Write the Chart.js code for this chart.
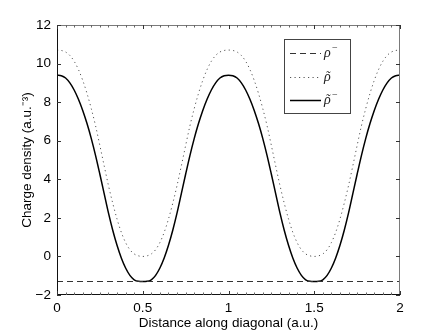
<!DOCTYPE html>
<html><head><meta charset="utf-8">
<script src="https://cdn.jsdelivr.net/npm/chart.js@4.4.0/dist/chart.umd.min.js"></script>
<style>html,body{margin:0;padding:0;background:#fff;}#wrap{width:441px;height:332px;}</style>
</head><body><div id="wrap"><canvas id="c" width="441" height="332"></canvas></div>
<script>
// Distance along diagonal (a.u.)
const xs = [0,0.025,0.05,0.075,0.1,0.125,0.15,0.175,0.2,0.225,0.25,0.275,0.3,0.325,0.35,0.375,0.4,0.425,0.45,0.475,0.5,
  0.525,0.55,0.575,0.6,0.625,0.65,0.675,0.7,0.725,0.75,0.775,0.8,0.825,0.85,0.875,0.9,0.925,0.95,0.975,1.0,
  1.025,1.05,1.075,1.1,1.125,1.15,1.175,1.2,1.225,1.25,1.275,1.3,1.325,1.35,1.375,1.4,1.425,1.45,1.475,1.5,
  1.525,1.55,1.575,1.6,1.625,1.65,1.675,1.7,1.725,1.75,1.775,1.8,1.825,1.85,1.875,1.9,1.925,1.95,1.975,2.0];
// rho tilde (dotted)
const rhoTilde = [10.70,10.68,10.60,10.42,10.12,9.69,9.13,8.45,7.66,6.77,5.75,4.70,3.68,2.76,1.94,1.25,0.72,0.35,0.13,0.03,0.00,
  0.03,0.13,0.35,0.72,1.25,1.94,2.76,3.68,4.70,5.75,6.77,7.66,8.45,9.13,9.69,10.12,10.42,10.60,10.68,10.70,
  10.68,10.60,10.42,10.12,9.69,9.13,8.45,7.66,6.77,5.75,4.70,3.68,2.76,1.94,1.25,0.72,0.35,0.13,0.03,0.00,
  0.03,0.13,0.35,0.72,1.25,1.94,2.76,3.68,4.70,5.75,6.77,7.66,8.45,9.13,9.69,10.12,10.42,10.60,10.68,10.70];
// rho tilde minus (solid)
const rhoTildeMinus = [9.40,9.37,9.25,9.00,8.63,8.15,7.57,6.89,6.11,5.23,4.26,3.26,2.26,1.36,0.58,-0.08,-0.60,-0.98,-1.21,-1.29,-1.30,
  -1.29,-1.21,-0.98,-0.60,-0.08,0.58,1.36,2.26,3.26,4.26,5.23,6.11,6.89,7.57,8.15,8.63,9.00,9.25,9.37,9.40,
  9.37,9.25,9.00,8.63,8.15,7.57,6.89,6.11,5.23,4.26,3.26,2.26,1.36,0.58,-0.08,-0.60,-0.98,-1.21,-1.29,-1.30,
  -1.29,-1.21,-0.98,-0.60,-0.08,0.58,1.36,2.26,3.26,4.26,5.23,6.11,6.89,7.57,8.15,8.63,9.00,9.25,9.37,9.40];
// rho minus (dashed, constant)
const rhoMinusX = [0, 2];
const rhoMinus = [-1.3, -1.3];
const xTicks = [0, 0.5, 1, 1.5, 2];
const yTicks = [-2, 0, 2, 4, 6, 8, 10, 12];
// legend labels: rho, with tilde flag and superscript minus flag
const seriesLabels = ['\u03C1\u207B', '\u03C1\u0303', '\u03C1\u0303\u207B'];
const labelTilde = [false, true, true];
const labelMinus = [true, false, true];

const toPts = (xv, yv) => xv.map((x, i) => ({x: x, y: yv[i]}));
const FONT = 'Liberation Sans, Arial, Helvetica, sans-serif';

const boxTicks = {
  id: 'boxTicks',
  afterDraw(chart) {
    const {ctx, chartArea: a, scales} = chart;
    const xs_ = scales.x, ys_ = scales.y;
    ctx.save();
    ctx.lineWidth = 1;
    ctx.strokeStyle = '#7a7a7a';
    ctx.beginPath();
    ctx.moveTo(a.left, a.top + 0.5); ctx.lineTo(a.right, a.top + 0.5);
    ctx.moveTo(a.right - 0.5, a.top); ctx.lineTo(a.right - 0.5, a.bottom);
    ctx.stroke();
    ctx.strokeStyle = '#111';
    ctx.beginPath();
    ctx.moveTo(a.left + 0.5, a.top); ctx.lineTo(a.left + 0.5, a.bottom);
    ctx.moveTo(a.left, a.bottom - 0.5); ctx.lineTo(a.right, a.bottom - 0.5);
    ctx.stroke();
    ctx.strokeStyle = '#666';
    ctx.beginPath();
    for (let k = 1; k < 40; k++) {
      const px = Math.round(xs_.getPixelForValue(k * 0.05)) + 0.5;
      ctx.moveTo(px, a.bottom); ctx.lineTo(px, a.bottom - 2.5);
      ctx.moveTo(px, a.top); ctx.lineTo(px, a.top + 2.5);
    }
    ctx.stroke();
    ctx.strokeStyle = '#333';
    ctx.beginPath();
    xTicks.forEach(v => {
      const px = Math.round(xs_.getPixelForValue(v)) + 0.5;
      ctx.moveTo(px, a.bottom); ctx.lineTo(px, a.bottom - 4);
      ctx.moveTo(px, a.top); ctx.lineTo(px, a.top + 4);
    });
    yTicks.forEach(v => {
      const py = Math.round(ys_.getPixelForValue(v)) + 0.5;
      ctx.moveTo(a.left, py); ctx.lineTo(a.left + 4, py);
      ctx.moveTo(a.right, py); ctx.lineTo(a.right - 4, py);
    });
    ctx.stroke();
    // legend box
    const L = 284, T = 39, R = 350, B = 113;
    ctx.fillStyle = '#fff';
    ctx.fillRect(L, T, R - L, B - T);
    ctx.strokeStyle = '#444';
    ctx.strokeRect(L + 0.5, T + 0.5, R - L, B - T);
    const rows = [53, 77, 100];
    chart.data.datasets.forEach((ds, i) => {
      ctx.save();
      ctx.strokeStyle = ds.borderColor;
      ctx.lineWidth = ds.borderWidth;
      ctx.setLineDash(ds.borderDash || []);
      ctx.beginPath();
      ctx.moveTo(290, rows[i] + 0.5); ctx.lineTo(321, rows[i] + 0.5);
      ctx.stroke();
      ctx.restore();
      ctx.fillStyle = '#222';
      ctx.font = 'italic 14px "Liberation Serif", "DejaVu Serif", serif';
      ctx.textBaseline = 'alphabetic';
      ctx.textAlign = 'left';
      const bx = 324, by = rows[i] + 4;
      ctx.fillText('\u03C1', bx, by);
      if (labelTilde[i]) {
        ctx.font = 'italic 13px "Liberation Serif", "DejaVu Serif", serif';
        ctx.fillText('\u02DC', bx + 1.5, by - 1);
      }
      if (labelMinus[i]) {
        ctx.font = '10px "Liberation Serif", "DejaVu Serif", serif';
        ctx.fillText('\u2212', bx + 8, by - 6);
      }
    });
    ctx.restore();
  }
};

new Chart(document.getElementById('c'), {
  type: 'line',
  data: {
    datasets: [
      {label: seriesLabels[0], data: toPts(rhoMinusX, rhoMinus), borderColor: '#333', borderWidth: 1.2, borderDash: [6, 4], pointRadius: 0, fill: false},
      {label: seriesLabels[1], data: toPts(xs, rhoTilde), borderColor: '#555', borderWidth: 1, borderDash: [1.2, 3.3], pointRadius: 0, fill: false, cubicInterpolationMode: 'monotone'},
      {label: seriesLabels[2], data: toPts(xs, rhoTildeMinus), borderColor: '#000', borderWidth: 1.5, pointRadius: 0, fill: false, cubicInterpolationMode: 'monotone'}
    ]
  },
  options: {
    responsive: false,
    animation: false,
    devicePixelRatio: 1,
    layout: {padding: {left: 0, right: 41, top: 25, bottom: 0}},
    plugins: {legend: {display: false}, tooltip: {enabled: false}},
    scales: {
      x: {
        type: 'linear', min: 0, max: 2,
        afterBuildTicks: s => { s.ticks = xTicks.map(v => ({value: v})); },
        afterFit: s => { s.height = 37; },
        grid: {display: false, drawTicks: false},
        border: {display: false},
        ticks: {padding: 5, color: '#000', font: {family: FONT, size: 13.5}, callback: v => String(v), maxRotation: 0, autoSkip: false},
        title: {display: true, text: 'Distance along diagonal (a.u.)', color: '#000', font: {family: FONT, size: 13.5}, padding: {top: 0, bottom: 1}}
      },
      y: {
        type: 'linear', min: -2, max: 12,
        afterBuildTicks: s => { s.ticks = yTicks.map(v => ({value: v})); },
        afterFit: s => { s.width = 57; },
        grid: {display: false, drawTicks: false},
        border: {display: false},
        ticks: {padding: 6, color: '#000', font: {family: FONT, size: 13.5}, callback: v => String(v).replace('-', '\u2212'), autoSkip: false},
        title: {display: true, text: 'Charge density (a.u.\u207B\u00B3)', color: '#000', font: {family: FONT, size: 13.5}, padding: {top: 19, bottom: 0}}
      }
    }
  },
  plugins: [boxTicks]
});
</script>
</body></html>
